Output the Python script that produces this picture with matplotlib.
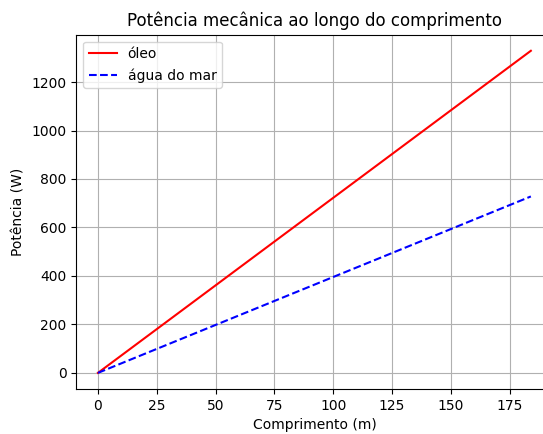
import matplotlib
matplotlib.use('Agg')
import matplotlib.pyplot as plt

# valores
comprimento = [0, 184]          # m
potencia_oleo = [0, 1329]       # W
potencia_agua_mar = [0, 728]    # W

fig = plt.figure(figsize=(5.43, 4.34), dpi=100)
ax = fig.add_axes([0.1405, 0.1037, 0.877, 0.8164])

ax.plot(comprimento, potencia_oleo, 'r-', label='óleo')
ax.plot(comprimento, potencia_agua_mar, 'b--', label='água do mar')

ax.set_title('Potência mecânica ao longo do comprimento')
ax.set_xlabel('Comprimento (m)')
ax.set_ylabel('Potência (W)')
ax.set_xticks([0, 25, 50, 75, 100, 125, 150, 175])
ax.grid(True)
ax.legend(loc='upper left')

fig.savefig('out.png', dpi=100)
